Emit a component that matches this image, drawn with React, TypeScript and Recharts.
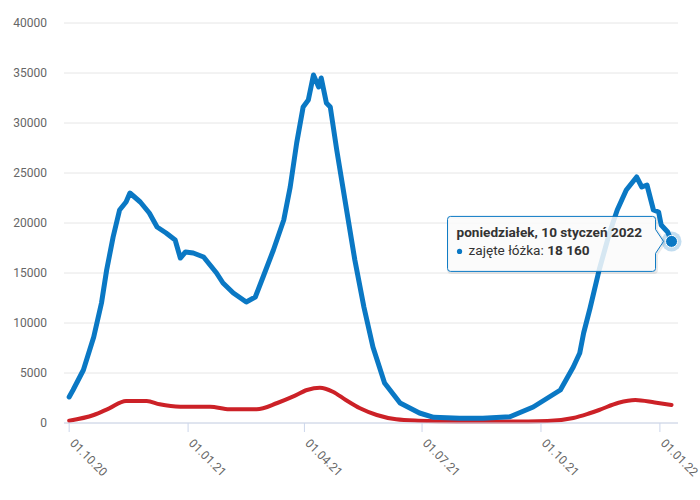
import React from 'react';
import { LineChart, Line, XAxis, YAxis, CartesianGrid, ReferenceDot } from 'recharts';

// Occupied beds (blue)
const BLUE_DATES = [
  '2020-10-01', '2020-10-04', '2020-10-12', '2020-10-20', '2020-10-26', '2020-10-30',
  '2020-11-04', '2020-11-09', '2020-11-14', '2020-11-17', '2020-11-25', '2020-12-02',
  '2020-12-08', '2020-12-15', '2020-12-22', '2020-12-26', '2020-12-30', '2021-01-05',
  '2021-01-13', '2021-01-23', '2021-01-28', '2021-02-05', '2021-02-15', '2021-02-22',
  '2021-02-28', '2021-03-08', '2021-03-16', '2021-03-21', '2021-03-26', '2021-03-31',
  '2021-04-04', '2021-04-08', '2021-04-12', '2021-04-14', '2021-04-18', '2021-04-21',
  '2021-04-26', '2021-05-04', '2021-05-10', '2021-05-17', '2021-05-24', '2021-06-02',
  '2021-06-14', '2021-06-29', '2021-07-10', '2021-07-30', '2021-08-17', '2021-09-07',
  '2021-09-25', '2021-10-16', '2021-10-26', '2021-10-31', '2021-11-03', '2021-11-08',
  '2021-11-15', '2021-11-23', '2021-11-29', '2021-12-06', '2021-12-14', '2021-12-18',
  '2021-12-22', '2021-12-27', '2021-12-31', '2022-01-02', '2022-01-07', '2022-01-10',
];
const BLUE_VALUES = [
  2600, 3300, 5300, 8600, 12000, 15300,
  18600, 21300, 22100, 23000, 22100, 21000,
  19600, 19000, 18300, 16500, 17100, 17000,
  16600, 15000, 14000, 13000, 12100, 12600,
  14600, 17300, 20300, 23600, 28000, 31600,
  32300, 34800, 33600, 34500, 32000, 31600,
  27300, 21000, 16300, 11600, 7600, 4000,
  2000, 1000, 570, 470, 470, 630,
  1600, 3300, 5600, 7000, 9000, 11500,
  15300, 19000, 21300, 23300, 24600, 23600,
  23800, 21300, 21100, 19800, 19100, 18160,
];

// Second series (red)
const RED_DATES = [
  '2020-10-01', '2020-10-20', '2020-11-01', '2020-11-14', '2020-11-30', '2020-12-10',
  '2020-12-26', '2021-01-07', '2021-01-18', '2021-02-02', '2021-02-23', '2021-03-11',
  '2021-03-23', '2021-04-03', '2021-04-13', '2021-04-23', '2021-05-03', '2021-05-14',
  '2021-05-27', '2021-06-11', '2021-06-28', '2021-07-28', '2021-09-06', '2021-10-06',
  '2021-10-26', '2021-11-07', '2021-11-15', '2021-11-30', '2021-12-13', '2021-12-28',
  '2022-01-10',
];
const RED_VALUES = [
  230, 800, 1470, 2200, 2200, 1870,
  1630, 1630, 1630, 1370, 1370, 2000,
  2630, 3300, 3530, 3130, 2300, 1470,
  800, 370, 230, 150, 150, 200,
  500, 950, 1300, 2030, 2300, 2050,
  1800,
];

const TICK_DATES = ['2020-10-01', '2021-01-01', '2021-04-01', '2021-07-01', '2021-10-01', '2022-01-01'];
const TICK_LABELS = ['01.10.20', '01.01.21', '01.04.21', '01.07.21', '01.10.21', '01.01.22'];
const Y_TICKS = [0, 5000, 10000, 15000, 20000, 25000, 30000, 35000, 40000];
const X_DOMAIN = ['2020-09-27', '2022-01-15'];

const HIGHLIGHT_DATE = '2022-01-10';
const HIGHLIGHT_VALUE = 18160;
const TOOLTIP_TITLE = 'poniedziałek, 10 styczeń 2022';
const SERIES_NAME = 'zajęte łóżka';
const HIGHLIGHT_LABEL = '18 160';

const ts = (d: string) => Date.parse(d + 'T00:00:00Z');

const blueData = BLUE_DATES.map((d, i) => ({ t: ts(d), v: BLUE_VALUES[i] }));
const redData = RED_DATES.map((d, i) => ({ t: ts(d), v: RED_VALUES[i] }));
const tickTs = TICK_DATES.map(ts);

const BLUE = '#0a78c4';
const RED = '#cc2127';
const FONT = 'Roboto, "Liberation Sans", Arial, sans-serif';

const XTick = (props: any) => {
  const { x, payload } = props;
  const i = tickTs.indexOf(payload.value);
  const x0 = x;
  const y0 = 444;
  return (
    <text
      x={x0}
      y={y0}
      transform={`rotate(45 ${x0} ${y0})`}
      textAnchor="start"
      fill="#666666"
      fontSize={12}
      fontFamily={FONT}
    >
      {TICK_LABELS[i]}
    </text>
  );
};

const HighlightShape = (props: any) => {
  const { cx, cy } = props;
  if (cx == null || cy == null) return null;
  const left = cx - 224;
  const right = cx - 16;
  const top = cy - 25;
  const bottom = cy + 30;
  const r = 3;
  const path = [
    `M ${left + r} ${top}`,
    `L ${right - r} ${top}`,
    `Q ${right} ${top} ${right} ${top + r}`,
    `L ${right} ${cy - 12}`,
    `L ${cx - 8} ${cy}`,
    `L ${right} ${cy + 12}`,
    `L ${right} ${bottom - r}`,
    `Q ${right} ${bottom} ${right - r} ${bottom}`,
    `L ${left + r} ${bottom}`,
    `Q ${left} ${bottom} ${left} ${bottom - r}`,
    `L ${left} ${top + r}`,
    `Q ${left} ${top} ${left + r} ${top}`,
    'Z',
  ].join(' ');
  return (
    <g>
      <path d={path} transform="translate(1,1)" fill="none" stroke="rgba(0,0,0,0.08)" strokeWidth={3} />
      <path d={path} fill="rgba(250,250,250,0.85)" stroke={BLUE} strokeWidth={1} />
      <text x={cx - 215} y={cy - 4} fontFamily={FONT} fontSize={13.6} fontWeight="bold" fill="#333333">
        {TOOLTIP_TITLE}
      </text>
      <circle cx={cx - 212} cy={cy + 10} r={2.6} fill={BLUE} />
      <text x={cx - 203} y={cy + 14} fontFamily={FONT} fontSize={13.6} fill="#333333">
        {SERIES_NAME + ': '}
        <tspan fontWeight="bold">{HIGHLIGHT_LABEL}</tspan>
      </text>
      <circle cx={cx} cy={cy} r={10} fill={BLUE} fillOpacity={0.25} />
      <circle cx={cx} cy={cy} r={6} fill={BLUE} stroke="#ffffff" strokeWidth={1} />
    </g>
  );
};

export default function App() {
  return (
    <div style={{ position: 'absolute', left: 0, top: 0, width: 700, height: 500, background: '#fff' }}>
      <LineChart width={700} height={500} margin={{ top: 23, right: 22, bottom: 0, left: 0 }}>
        <CartesianGrid vertical={false} stroke="#e6e6e6" strokeWidth={1} />
        <XAxis
          type="number"
          dataKey="t"
          domain={X_DOMAIN.map(ts)}
          ticks={tickTs}
          allowDataOverflow
          height={77}
          stroke="#ccd6eb"
          tickLine={{ stroke: '#ccd6eb' }}
          axisLine={{ stroke: '#ccd6eb' }}
          tickSize={9}
          tick={<XTick />}
          interval={0}
        />
        <YAxis
          type="number"
          domain={[0, 40000]}
          ticks={Y_TICKS}
          width={64}
          axisLine={false}
          tickLine={false}
          tickSize={0}
          tickMargin={17}
          tick={{ fill: '#666666', fontSize: 12, fontFamily: FONT }}
          interval={0}
        />
        <Line
          data={redData}
          dataKey="v"
          type="monotone"
          stroke={RED}
          strokeWidth={4}
          dot={false}
          activeDot={false}
          isAnimationActive={false}
          strokeLinejoin="round"
          strokeLinecap="round"
        />
        <Line
          data={blueData}
          dataKey="v"
          type="linear"
          stroke={BLUE}
          strokeWidth={5}
          dot={false}
          activeDot={false}
          isAnimationActive={false}
          strokeLinejoin="round"
          strokeLinecap="round"
        />
        <ReferenceDot
          x={ts(HIGHLIGHT_DATE)}
          y={HIGHLIGHT_VALUE}
          r={6}
          shape={<HighlightShape />}
          ifOverflow="visible"
        />
      </LineChart>
    </div>
  );
}
